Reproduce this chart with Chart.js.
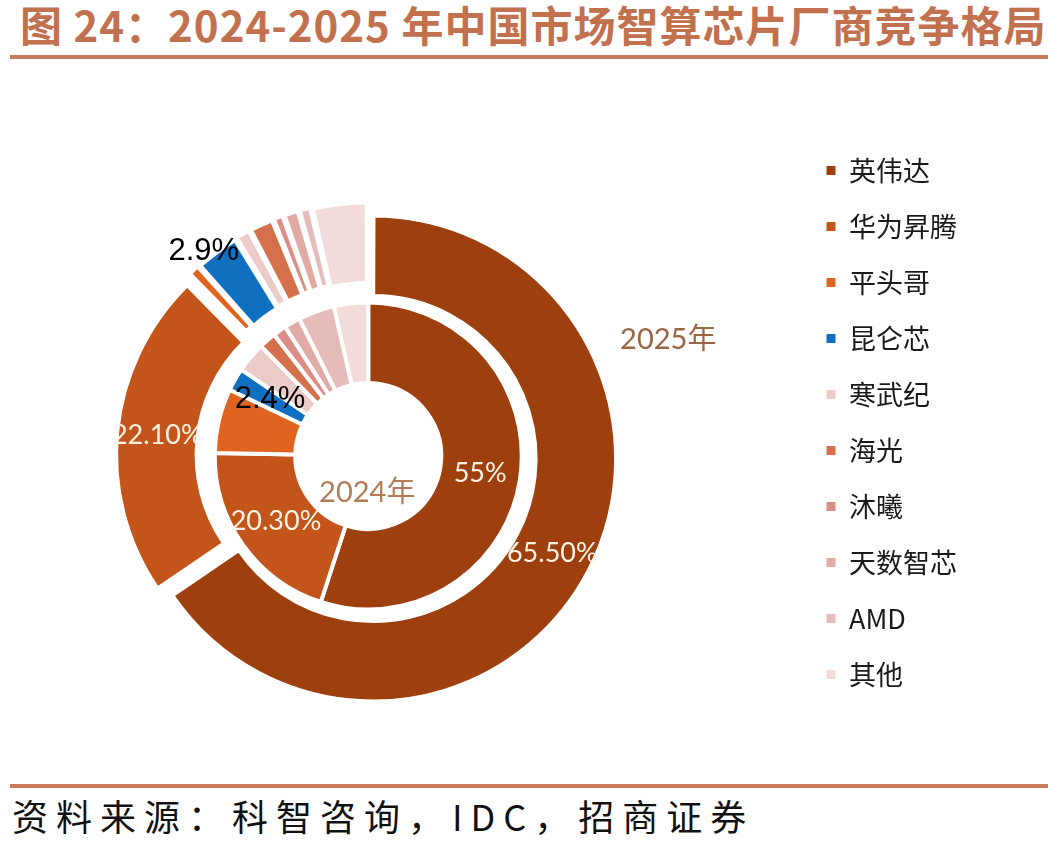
<!DOCTYPE html>
<html>
<head>
<meta charset="utf-8">
<script src="https://cdn.jsdelivr.net/npm/chart.js@4.4.1/dist/chart.umd.min.js"></script>
<style>
    html, body {
        margin: 0;
        padding: 0;
        width: 1048px;
        height: 852px;
        overflow: hidden;
        background: #fff;
        position: relative;
        font-family: "Noto Sans CJK SC", sans-serif;
    }
    #title {
        position: absolute;
        left: 20px;
        top: 3px;
        font-size: 42px;
        line-height: 42px;
        letter-spacing: 1px;
        font-weight: 700;
        color: #c2714f;
        white-space: nowrap;
    }
    .rule {
        position: absolute;
        left: 10px;
        width: 1038px;
        height: 4px;
        background: #c97a5b;
    }
    #source {
        position: absolute;
        left: 12px;
        top: 797px;
        font-size: 36px;
        line-height: 36px;
        letter-spacing: 8px;
        color: #111;
        white-space: nowrap;
    }
    #chartBox {
        position: absolute;
        left: -61px;
        top: 128px;
    }
</style>
</head>
<body>
<div id="title">图 24：2024-2025 年中国市场智算芯片厂商竞争格局</div>
<div class="rule" style="top:55px"></div>
<div id="chartBox"><canvas id="shareChart" width="1028" height="656"></canvas></div>
<div class="rule" style="top:784px"></div>
<div id="source">资料来源：科智咨询，IDC，招商证券</div>

<script>
// 厂商
var vendors = ["英伟达", "华为昇腾", "平头哥", "昆仑芯", "寒武纪", "海光", "沐曦", "天数智芯", "AMD", "其他"];
// 市场份额 (%)
var share2025 = [65.5, 22.1, 0.8, 2.9, 1.0, 1.6, 0.7, 1.0, 0.8, 3.6];
var share2024 = [55, 20.3, 6.8, 2.4, 3.2, 1.8, 1.4, 1.7, 3.8, 3.6];
// 图上标注的数值
var labels2025 = ["65.50%", "22.10%", "", "2.9%", "", "", "", "", "", ""];
var labels2024 = ["55%", "20.30%", "", "2.4%", "", "", "", "", "", ""];

var colors = ["#9e400e", "#c4551a", "#e0641f", "#0f6fc0", "#ebcbc8", "#d5704c", "#db8e86", "#e2aaa4", "#e6bcba", "#f2dbd8"];

var sliceLabels = {
    id: "sliceLabels",
    afterDatasetsDraw: function (chart) {
        var ctx = chart.ctx;
        ctx.save();
        ctx.textAlign = "center";
        ctx.textBaseline = "middle";
        [0, 2].forEach(function (di) {
            var ds = chart.data.datasets[di];
            var meta = chart.getDatasetMeta(di);
            meta.data.forEach(function (arc, i) {
                var txt = ds.valueLabels[i];
                if (!txt) return;
                var p = arc.getProps(["x", "y", "startAngle", "endAngle", "innerRadius", "outerRadius"]);
                var off = (arc.options.offset || 0) / 4;
                var circ = p.endAngle - p.startAngle;
                var fix = 1 - Math.sin(Math.min(Math.PI, circ));
                var mid = (p.startAngle + p.endAngle) / 2;
                var small = ds.data[i] < 5;
                var r;
                if (small && di === 0) {
                    mid -= 0.04;
                    r = p.outerRadius + off + off * fix + 9;
                } else {
                    r = (p.innerRadius + p.outerRadius) / 2 + off + off * fix;
                }
                if (small) {
                    ctx.font = '31px "Liberation Sans", Arial, sans-serif';
                    ctx.fillStyle = "#000";
                } else {
                    ctx.font = '27px Lato, "Open Sans", sans-serif';
                    ctx.fillStyle = "#fff3e6";
                }
                ctx.fillText(txt, p.x + Math.cos(mid) * r, p.y + Math.sin(mid) * r);
            });
            // 年份标注
            var c = meta.data[0];
            ctx.font = '29px Lato, "Noto Sans CJK SC", sans-serif';
            ctx.fillStyle = ds.yearColor;
            ctx.fillText(ds.label, c.x + ds.yearPos[0], c.y + ds.yearPos[1]);
        });
        ctx.restore();
    }
};

var ctx = document.getElementById("shareChart").getContext("2d");
var shareChart = new Chart(ctx, {
    type: "doughnut",
    data: {
        labels: vendors,
        datasets: [
            {
                label: "2025年",
                data: share2025,
                valueLabels: labels2025,
                backgroundColor: colors,
                borderColor: "#ffffff",
                borderWidth: 3,
                offset: [22, 58, 36, 36, 36, 36, 36, 36, 36, 36],
                weight: 80,
                yearColor: "#9b6443",
                yearPos: [300, -116]
            },
            {
                label: "spacer",
                data: [1],
                backgroundColor: "rgba(0,0,0,0)",
                borderWidth: 0,
                weight: 4
            },
            {
                label: "2024年",
                data: share2024,
                valueLabels: labels2024,
                backgroundColor: colors,
                borderColor: "#ffffff",
                borderWidth: 4,
                weight: 81,
                yearColor: "#b27c56",
                yearPos: [-1, 37]
            }
        ]
    },
    options: {
        responsive: false,
        animation: false,
        radius: 237,
        cutout: "30.8%",
        layout: { padding: 0 },
        plugins: {
            tooltip: { enabled: false },
            legend: {
                position: "right",
                align: "start",
                labels: {
                    boxWidth: 9,
                    boxHeight: 9,
                    padding: 29,
                    color: "#1a1a1a",
                    font: { size: 27, family: "'Noto Sans CJK SC', sans-serif" },
                    generateLabels: function (chart) {
                        var items = Chart.overrides.doughnut.plugins.legend.labels.generateLabels(chart);
                        items.forEach(function (it) {
                            it.lineWidth = 0;
                            it.strokeStyle = "rgba(0,0,0,0)";
                        });
                        return items;
                    }
                }
            }
        }
    },
    plugins: [sliceLabels]
});
</script>
</body>
</html>
